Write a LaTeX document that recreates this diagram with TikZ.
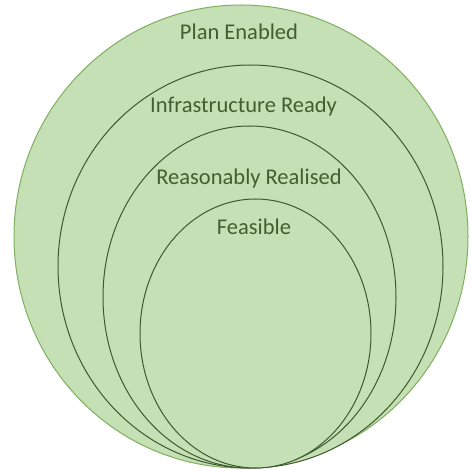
\documentclass[tikz,border=0pt]{standalone}
\usepackage{fontspec}
\setmainfont{Carlito}
\begin{document}
\definecolor{setfill}{HTML}{C5E0B4}
\definecolor{outerline}{HTML}{7FAF5F}
\definecolor{innerline}{HTML}{3E5A2C}
\definecolor{labeltext}{HTML}{40602D}
\begin{tikzpicture}[x=1pt,y=-1pt,
  setring/.style={fill=setfill,draw=innerline,line width=1pt},
  setlabel/.style={anchor=base,inner sep=0pt,text=labeltext,font=\fontsize{22.5}{26}\selectfont}]
\useasboundingbox (0,0) rectangle (471,470);
% nested sets, all resting on a common bottom point
\draw[setring,draw=outerline] (241,236.5) ellipse [x radius=227,y radius=231.5];
\draw[setring] (250.5,266.5) ellipse [x radius=192.5,y radius=201.5];
\draw[setring] (249.5,297) ellipse [x radius=146.5,y radius=171];
\draw[setring] (255.5,333.5) ellipse [x radius=115.5,y radius=134.5];
% set names
\node[setlabel] (plan) at (239,40) {Plan Enabled};
\node[setlabel] (infra) at (243.5,112.5) {Infrastructure Ready};
\node[setlabel] (reason) at (249,184.3) {Reasonably Realised};
\node[setlabel] (feas) at (254,235) {Feasible};
\end{tikzpicture}
\end{document}
